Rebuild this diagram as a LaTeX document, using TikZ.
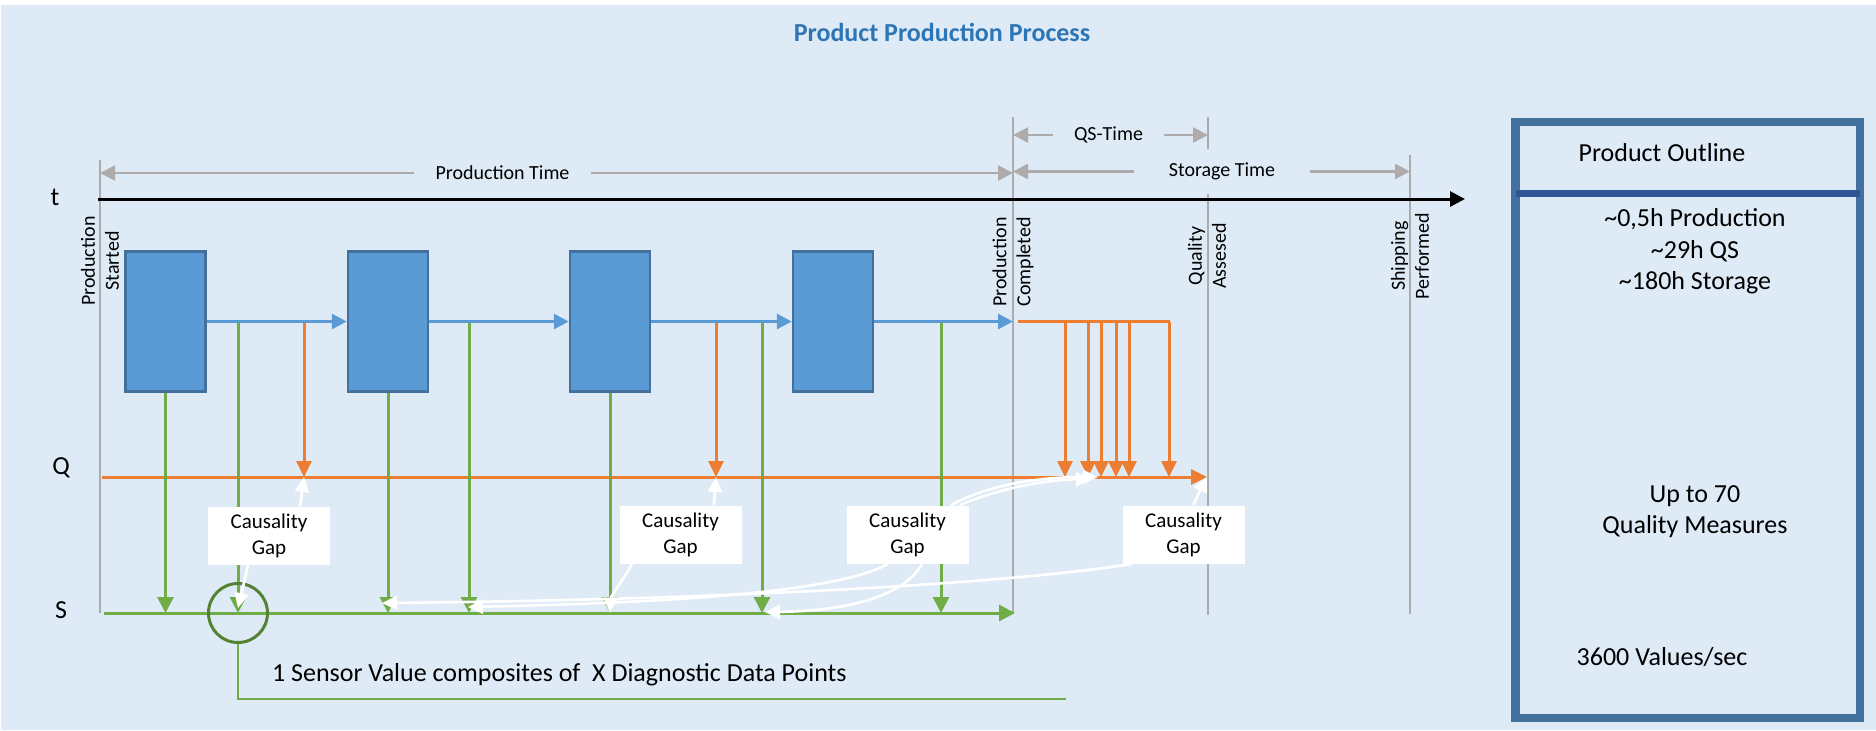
\documentclass[tikz,border=0pt]{standalone}
\usepackage{fontspec}
\setmainfont{Carlito}
\usetikzlibrary{arrows.meta}

\definecolor{bgblue}{RGB}{222,235,247}
\definecolor{procblue}{RGB}{91,155,213}
\definecolor{procedge}{RGB}{65,113,156}
\definecolor{sensgreen}{RGB}{112,173,71}
\definecolor{ringgreen}{RGB}{84,130,53}
\definecolor{qorange}{RGB}{237,125,49}
\definecolor{dimgray}{RGB}{175,171,171}
\definecolor{evgray}{RGB}{172,172,172}
\definecolor{titleblue}{RGB}{46,117,182}
\definecolor{framedark}{RGB}{47,85,151}

\begin{document}
\begin{tikzpicture}[x=0.5pt,y=-0.5pt,
  procbox/.style={rectangle,draw=procedge,line width=1.25pt,fill=procblue,minimum width=40pt,minimum height=70pt,inner sep=0pt},
  gapbox/.style={rectangle,fill=white,minimum width=61pt,minimum height=29pt,inner sep=0pt,align=center,font=\fontsize{10.5}{13}\selectfont},
  evlabel/.style={rotate=90,align=center,inner sep=0pt,font=\fontsize{10}{12}\selectfont},
  dimlabel/.style={fill=bgblue,inner sep=0pt,minimum height=10pt,font=\fontsize{10}{12}\selectfont},
  dimarrow/.style={dimgray,line width=1.25pt,-{Triangle[length=7.5pt,width=7.5pt]}},
  evline/.style={evgray,line width=0.8pt},
  flowarrow/.style={procblue,line width=1.5pt,-{Triangle[length=7.5pt,width=7.5pt]}},
  sensarrow/.style={sensgreen,line width=1.5pt,-{Triangle[length=8pt,width=8pt]}},
  qarrow/.style={qorange,line width=1.5pt,-{Triangle[length=8pt,width=7.5pt]}},
  gaparrow/.style={white,line width=1.3pt,-{Triangle[length=7.5pt,width=7pt]}},
  sensring/.style={circle,draw=ringgreen,line width=1.5pt,minimum size=29.5pt,inner sep=0pt},
  axislabel/.style={font=\fontsize{13}{15}\selectfont},
  outlinetext/.style={align=center,font=\fontsize{13}{15.75}\selectfont},
  titletext/.style={text=titleblue,font=\fontsize{13}{15}\selectfont\bfseries}]
          \useasboundingbox (0,0) rectangle (1876,730);
          \fill[bgblue] (1,5) rectangle (1876,730);
          \node (title) at (942,32) [titletext] {Product Production Process};
          \coordinate (evStartTop) at (100,160);
          \coordinate (evStartBot) at (100,613);
          \coordinate (evDoneTop) at (1013,117);
          \coordinate (evDoneBot) at (1013,613);
          \coordinate (evQualTop) at (1208,117);
          \coordinate (evQualBot) at (1208,615);
          \coordinate (evShipTop) at (1410,155);
          \coordinate (evShipBot) at (1410,614);
          \draw[evline] (evStartTop) -- (evStartBot);
          \draw[evline] (evDoneTop) -- (evDoneBot);
          \draw[evline] (evQualTop) -- (evQualBot);
          \draw[evline] (evShipTop) -- (evShipBot);
          \coordinate (tStart) at (98,199);
          \coordinate (tEnd) at (1465,199);
          \draw[line width=1.5pt,-{Triangle[length=7.5pt,width=7.5pt]}] (tStart) -- (tEnd);
          \node (tLabel) at (55,197) [axislabel] {t};
          \node (ptime) at (502.5,173) [dimlabel,minimum width=88.5pt] {Production Time};
          \draw[dimarrow] (ptime.west) -- (ptime.west -| evStartTop);
          \draw[dimarrow] (ptime.east) -- (ptime.east -| evDoneTop);
          \node (stime) at (1222,171.5) [dimlabel,minimum width=88pt,minimum height=22.5pt] {Storage Time};
          \draw[dimarrow] (stime.west) -- (stime.west -| evDoneTop);
          \draw[dimarrow] (stime.east) -- (stime.east -| evShipTop);
          \node (qstime) at (1108.5,135) [dimlabel,minimum width=55.5pt] {QS-Time};
          \draw[dimarrow] (qstime.west) -- (qstime.west -| evDoneTop);
          \draw[dimarrow] (qstime.east) -- (qstime.east -| evQualTop);
          \node (lbStart) at (100,261) [evlabel] {Production\\Started};
          \node (lbDone) at (1013,262) [evlabel] {Production\\Completed};
          \node (lbQual) at (1207,256) [evlabel] {Quality\\Assesed};
          \node (lbShip) at (1410,256) [evlabel] {Shipping\\Performed};
          \coordinate (qStart) at (102,477);
          \coordinate (qEnd) at (1207,477);
          \draw[qarrow] (qStart) -- (qEnd);
          \node (qLabel) at (61,468) [axislabel] {Q};
          \coordinate (sStart) at (104,613);
          \coordinate (sEnd) at (1015,613);
          \draw[sensarrow] (sStart) -- (sEnd);
          \node (sLabel) at (61,610) [axislabel] {S};
          \node (b1) at (165.5,321.5) [procbox] {};
          \node (b2) at (388,321.5) [procbox] {};
          \node (b3) at (610,321.5) [procbox] {};
          \node (b4) at (833,321.5) [procbox] {};
          \foreach \b in {b1,b2,b3}
            \draw[sensarrow] (\b.south) -- (\b.south |- sStart);
          \foreach \x [count=\i] in {238,469,762,941} {
            \coordinate (sTap\i) at (\x,321.5);
            \draw[sensarrow] (sTap\i) -- (sTap\i |- sStart);
          }
          \foreach \x [count=\i] in {304,716} {
            \coordinate (qTap\i) at (\x,321.5);
            \draw[qarrow] (qTap\i) -- (qTap\i |- qStart);
          }
          \coordinate (fanStart) at (1018,321.5);
          \coordinate (fanEnd) at (1170,321.5);
          \foreach \x [count=\i] in {1065,1088,1101,1116,1129,1169} {
            \coordinate (fanTap\i) at (\x,321.5);
            \draw[qarrow] (fanTap\i) -- (fanTap\i |- qStart);
          }
          \draw[qorange,line width=1.5pt] (fanStart) -- (fanEnd);
          \draw[flowarrow] (b1) -- (b2);
          \draw[flowarrow] (b2) -- (b3);
          \draw[flowarrow] (b3) -- (b4);
          \draw[flowarrow] (b4.east) -- (b4.east -| evDoneTop);
          \node (g1) at (269,536) [gapbox] {Causality\\Gap};
          \node (g2) at (680.5,534.5) [gapbox] {Causality\\Gap};
          \node (g3) at (907.5,534.5) [gapbox] {Causality\\Gap};
          \node (g4) at (1183.5,534.5) [gapbox] {Causality\\Gap};
          \node (sens) at (238,613) [sensring] {};
          \coordinate (qHitA) at (1098,477);
          \coordinate (qHitB) at (1091,479);
          \coordinate (sHitA) at (468,607);
          \coordinate (sHitB) at (382,603);
          \coordinate (sHitC) at (765,612);
          \draw[gaparrow] ([xshift=15.5pt]g1.north) -- (qTap1 |- qStart);
          \draw[gaparrow] ([xshift=-10.5pt]g1.south) -- ([yshift=2.5pt]sens.center);
          \draw[gaparrow] ([xshift=16.75pt]g2.north) -- (qTap2 |- qStart);
          \draw[gaparrow] ([xshift=-24.25pt]g2.south) .. controls (620,585) and (611,595) .. (b3.south |- sStart);
          \draw[gaparrow] ([xshift=21.75pt]g3.north) .. controls (990,484) and (1040,477) .. (qHitA);
          \draw[gaparrow] ([xshift=26.25pt]g3.north) .. controls (1000,488) and (1045,480) .. (qHitB);
          \draw[gaparrow] ([xshift=7.25pt]g3.south) .. controls (905,595) and (850,611) .. (sHitC);
          \draw[gaparrow] ([xshift=-9.75pt]g3.south) .. controls (840,590) and (700,602) .. (sHitA);
          \draw[gaparrow] ([xshift=-25.75pt]g4.south) .. controls (1000,585) and (700,600) .. (sHitB);
          \draw[gaparrow] ([xshift=4.75pt]g4.north) -- (qEnd);
          \coordinate (noteCorner) at (238,699);
          \coordinate (noteEnd) at (1066,699);
          \draw[sensgreen,line width=0.7pt] (sens.south) -- (noteCorner) -- (noteEnd);
          \node (note) at (265,675) [anchor=west,axislabel] {1 Sensor Value composites of\ \ X Diagnostic Data Points};
          \node (outline) at (1687.75,420) [draw=procedge,line width=4.25pt,minimum width=172.25pt,minimum height=298pt,inner sep=0pt] {};
          \coordinate (divLeft) at (1515.5,193.5);
          \coordinate (divRight) at (1860,193.5);
          \draw[framedark,line width=3.5pt] (divLeft) -- (divRight);
          \node (olTitle) at (1662,153) [outlinetext] {Product Outline};
          \node (olTimes) at (1695,251.5) [outlinetext] {\textasciitilde0,5h Production\\\textasciitilde29h QS\\\textasciitilde180h Storage};
          \node (olMeasures) at (1695,511.5) [outlinetext] {Up to 70\\Quality Measures};
          \node (olRate) at (1662,657) [outlinetext] {3600 Values/sec};
        \end{tikzpicture}
\end{document}
